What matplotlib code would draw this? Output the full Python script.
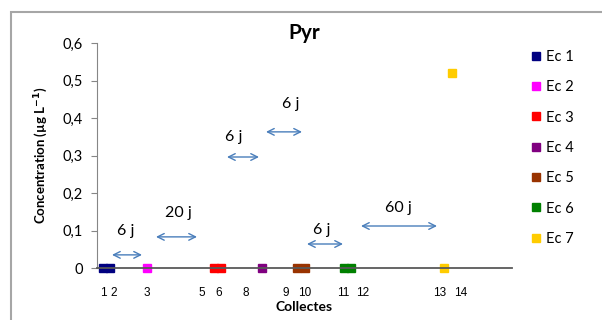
#! /usr/bin/env python3
import matplotlib
matplotlib.use('Agg')
import matplotlib.pyplot as plt
from matplotlib.patches import Rectangle

plt.rcParams['font.family'] = ['Lato', 'DejaVu Sans']

# positions along the collect axis (arbitrary units, as in the original layout)
series = ['Ec 1', 'Ec 2', 'Ec 3', 'Ec 4', 'Ec 5', 'Ec 6', 'Ec 7']
colors = ['#000080', '#ff00ff', '#ff0000', '#800080', '#993300', '#008000', '#ffcc00']
xs = [[6, 13], [49.5], [117, 124], [165], [200, 208], [247, 254], [347, 355]]
ys = [[0, 0], [0], [0, 0], [0], [0, 0], [0, 0], [0, 0.52]]

tick_pos = [6, 17, 50, 105, 122, 149, 189, 208, 246, 266, 343, 364]
tick_lab = ['1', '2', '3', '5', '6', '8', '9', '10', '11', '12', '13', '14']

# time gaps between collects: (x start, x end, y arrow, text x, text y, label)
gaps = [(15, 45, 0.035, 29, 0.10, '6 j'),
        (59, 100, 0.083, 81, 0.147, '20 j'),
        (130, 162, 0.296, 137, 0.35, '6 j'),
        (169, 205, 0.363, 194, 0.437, '6 j'),
        (210, 246, 0.064, 225, 0.101, '6 j'),
        (264, 340, 0.112, 301, 0.16, '60 j')]

fig = plt.figure(figsize=(6.02, 3.2), dpi=100)
ax = fig.add_axes([97 / 602, 52 / 320, 415 / 602, 225 / 320])

for name, c, x, y in zip(series, colors, xs, ys):
    ax.plot(x, y, 's', color=c, ms=5.8, label=name, clip_on=False, zorder=2)

ax.axhline(0, color='#595959', lw=1.3, zorder=3, clip_on=False)

for x0, x1, ya, tx, ty, lab in gaps:
    ax.annotate('', xy=(x0, ya), xytext=(x1, ya),
                arrowprops=dict(arrowstyle='<->', color='#4a7ebb', lw=1.0,
                                mutation_scale=12, shrinkA=0, shrinkB=0))
    ax.text(tx, ty, lab, ha='center', va='center', fontsize=11.5)

ax.set_xlim(0, 415)
ax.set_ylim(0, 0.6)
ax.set_yticks([0, 0.1, 0.2, 0.3, 0.4, 0.5, 0.6])
ax.set_yticklabels(['0', '0,1', '0,2', '0,3', '0,4', '0,5', '0,6'], fontsize=10.5)
ax.set_xticks(tick_pos)
ax.set_xticklabels(tick_lab, fontsize=8.5, family=['Liberation Sans'])
ax.tick_params(axis='x', length=0, pad=14)
ax.tick_params(axis='y', length=4, color='#868686', pad=6)

for s in ['top', 'right', 'bottom']:
    ax.spines[s].set_visible(False)
ax.spines['left'].set_color('#868686')

ax.set_xlabel('Collectes', fontsize=10, fontweight='bold', labelpad=1)
ax.set_ylabel('Concentration (µg L$^{\\mathbf{-1}}$)', fontsize=9.5, fontweight='bold', labelpad=9)
ax.set_title('Pyr', fontsize=15, fontweight='bold', pad=-7)

ax.legend(loc='upper left', bbox_to_anchor=(521 / 602, 1 - 44 / 320),
          bbox_transform=fig.transFigure, frameon=False, fontsize=10.5,
          labelspacing=1.12, handletextpad=0.1, handlelength=1.2,
          borderaxespad=0, markerscale=1.0)

fig.patches.append(Rectangle((11 / 602, -0.1), 1.0, 1 - 12 / 320 + 0.1,
                             transform=fig.transFigure, fill=False,
                             edgecolor='#a6a6a6', lw=1.5))

fig.savefig('out.png', dpi=100)
